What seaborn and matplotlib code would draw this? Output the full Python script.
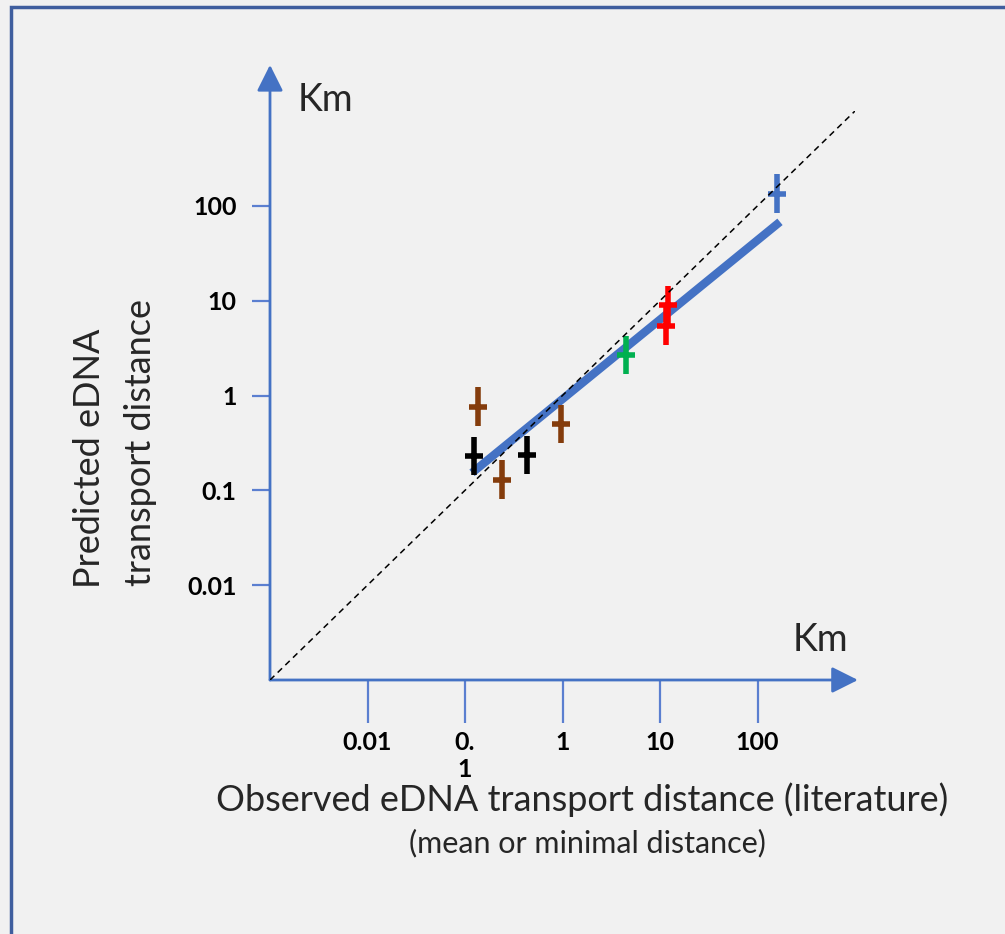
import matplotlib.pyplot as plt
import seaborn as sns
import pandas as pd
from matplotlib.path import Path
from matplotlib.patches import Rectangle

sns.set_theme(style='white')
plt.rcParams['font.family'] = ['Lato', 'DejaVu Sans']

# observed vs predicted eDNA transport distance (km)
obs_brown = [0.136, 0.24, 0.97]
pred_brown = [0.76, 0.129, 0.50]
obs_black = [0.124, 0.43]
pred_black = [0.23, 0.236]
obs_green = [4.5]
pred_green = [2.68]
obs_red = [12.1, 11.5]
pred_red = [9.0, 5.4]
obs_blue = [158]
pred_blue = [134]

# regression line and 1:1 line
fit_x = [0.118, 170]
fit_y = [0.153, 67.8]
one_to_one = [0.001, 1000]

tick_values = [0.01, 0.1, 1, 10, 100]
xtick_labels = ['0.01', '0.\n1', '1', '10', '100']
ytick_labels = ['0.01', '0.1', '1', '10', '100']

groups = ['brown', 'black', 'green', 'red', 'blue']
palette = {'brown': '#843C0C', 'black': '#000000', 'green': '#00B050',
           'red': '#FF0000', 'blue': '#4472C4'}

df = pd.concat([
    pd.DataFrame({'obs': obs_brown, 'pred': pred_brown, 'group': 'brown'}),
    pd.DataFrame({'obs': obs_black, 'pred': pred_black, 'group': 'black'}),
    pd.DataFrame({'obs': obs_green, 'pred': pred_green, 'group': 'green'}),
    pd.DataFrame({'obs': obs_red, 'pred': pred_red, 'group': 'red'}),
    pd.DataFrame({'obs': obs_blue, 'pred': pred_blue, 'group': 'blue'}),
], ignore_index=True)

# cross marker: long vertical bar, short horizontal bar
cross = Path([(0, -1), (0, 1), (-0.47, 0), (0.47, 0)],
             [Path.MOVETO, Path.LINETO, Path.MOVETO, Path.LINETO])

W, H = 1005, 934
fig = plt.figure(figsize=(W / 100, H / 100), dpi=100)
fig.patch.set_facecolor('#F1F1F1')

# outer frame (only left and top visible)
fig.patches.append(Rectangle((11 / W, -0.05), 1.1, (H - 7) / H + 0.05,
                             transform=fig.transFigure, fill=False,
                             edgecolor='#3F5E9E', lw=2.5))

ax = fig.add_axes([270 / W, 254 / H, 585 / W, 569 / H])
ax.set_facecolor('none')
ax.set_xscale('log')
ax.set_yscale('log')
ax.set_xlim(1e-3, 1e3)
ax.set_ylim(1e-3, 1e3)

ax.plot(fit_x, fit_y, color='#4472C4', lw=6, solid_capstyle='butt', zorder=2)
sns.scatterplot(data=df, x='obs', y='pred', hue='group', palette=palette,
                hue_order=groups, marker=cross, s=780, linewidth=4,
                edgecolor='face', legend=False, ax=ax, zorder=3)
ax.plot(one_to_one, one_to_one, color='black', lw=1.1, ls=(0, (4, 3)), zorder=4)
ax.set_xlabel('')
ax.set_ylabel('')

for s in ax.spines.values():
    s.set_visible(False)

axis_color = '#4472C4'
ax.set_xticks(tick_values)
ax.set_xticklabels(xtick_labels)
ax.set_yticks(tick_values)
ax.set_yticklabels(ytick_labels)
ax.minorticks_off()
ax.tick_params(axis='x', direction='out', length=31, width=1.6, color='#5B7FD0',
               pad=6, labelsize=18, bottom=True)
ax.tick_params(axis='y', direction='out', length=13, width=1.6, color='#5B7FD0',
               pad=11, labelsize=18, left=True)
for lab in ax.get_xticklabels() + ax.get_yticklabels():
    lab.set_fontweight('bold')
    lab.set_color('black')

arrow = dict(arrowstyle='-|>,head_length=0.8,head_width=0.4', color=axis_color,
             lw=2, mutation_scale=20, shrinkA=0, shrinkB=0)
ax.annotate('', xy=(0, 1.081), xytext=(0, 0), xycoords='axes fraction',
            arrowprops=arrow, annotation_clip=False)
ax.annotate('', xy=(1.005, 0), xytext=(0, 0), xycoords='axes fraction',
            arrowprops=arrow, annotation_clip=False)

fig.text(325 / W, 1 - 100 / H, 'Km', fontsize=27, ha='center', va='center')
fig.text(820 / W, 1 - 640 / H, 'Km', fontsize=27, ha='center', va='center')
fig.text(582 / W, 1 - 800 / H, 'Observed eDNA transport distance (literature)',
         fontsize=26, ha='center', va='center')
fig.text(587 / W, 1 - 843 / H, '(mean or minimal distance)',
         fontsize=22, ha='center', va='center')
fig.text(90 / W, 1 - 458 / H, 'Predicted eDNA', fontsize=26, rotation=90,
         ha='center', va='center')
fig.text(140 / W, 1 - 442 / H, 'transport distance', fontsize=26, rotation=90,
         ha='center', va='center')

fig.savefig('out.png', dpi=100, facecolor=fig.get_facecolor())
